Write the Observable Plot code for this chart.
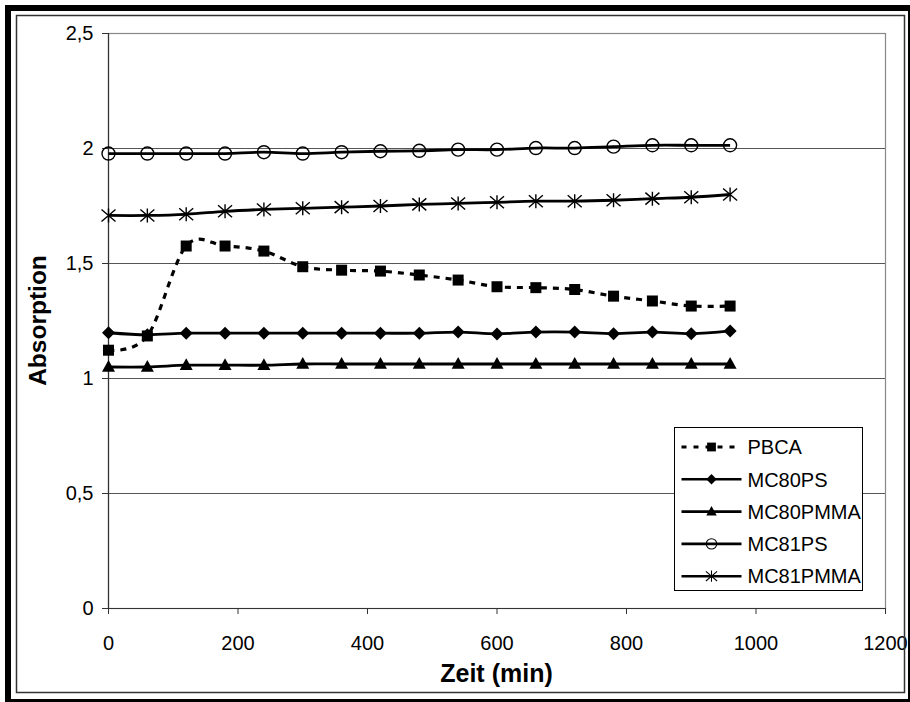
<!DOCTYPE html>
<html><head><meta charset="utf-8">
<script src="https://cdn.jsdelivr.net/npm/d3@7"></script>
<script src="https://cdn.jsdelivr.net/npm/@observablehq/plot@0.6"></script>
<style>body{margin:0;background:#fff}</style>
</head><body><div id="chart"></div>
<script>
const times = [0,60,120,180,240,300,360,420,480,540,600,660,720,780,840,900,960];
const seriesNames = ["PBCA","MC80PS","MC80PMMA","MC81PS","MC81PMMA"];
const pbca     = [1.123,1.185,1.576,1.576,1.554,1.486,1.471,1.467,1.450,1.428,1.399,1.395,1.387,1.358,1.337,1.315,1.315];
const mc80ps   = [1.199,1.190,1.197,1.197,1.197,1.197,1.197,1.197,1.197,1.202,1.194,1.202,1.202,1.195,1.202,1.195,1.207];
const mc80pmma = [1.050,1.050,1.058,1.058,1.058,1.063,1.063,1.063,1.063,1.063,1.063,1.063,1.063,1.063,1.063,1.063,1.063];
const mc81ps   = [1.978,1.978,1.978,1.978,1.984,1.978,1.984,1.988,1.990,1.995,1.995,2.002,2.002,2.008,2.014,2.014,2.014];
const mc81pmma = [1.709,1.709,1.714,1.727,1.735,1.740,1.745,1.750,1.757,1.761,1.766,1.771,1.771,1.775,1.782,1.788,1.800];
const yTicks = [0,0.5,1,1.5,2,2.5];
const yTickLabels = ["0","0,5","1","1,5","2","2,5"];
const xTicks = [0,200,400,600,800,1000,1200];
const xTickLabels = ["0","200","400","600","800","1000","1200"];
const xLabel = "Zeit (min)";
const yLabel = "Absorption";

// marker shapes (Excel-like)
const symSquare = {draw(c){ c.rect(-5.5,-5.5,11,11); }};
const symDiamond = {draw(c){ c.moveTo(0,-6.5); c.lineTo(6.5,0); c.lineTo(0,6.5); c.lineTo(-6.5,0); c.closePath(); }};
const symTriangle = {draw(c){ c.moveTo(0,-7); c.lineTo(6.5,4.8); c.lineTo(-6.5,4.8); c.closePath(); }};
const symCircle = {draw(c){ c.moveTo(6.5,0); c.arc(0,0,6.5,0,2*Math.PI); }};
const symStar = {draw(c){ c.moveTo(-7,-6); c.lineTo(7,6); c.moveTo(-7,6); c.lineTo(7,-6); c.moveTo(0,-7); c.lineTo(0,7); }};

const series = [
  {name: seriesNames[0], values: pbca,     dash: "6,6", sym: symSquare,   filled: true},
  {name: seriesNames[1], values: mc80ps,   dash: null,  sym: symDiamond,  filled: true},
  {name: seriesNames[2], values: mc80pmma, dash: null,  sym: symTriangle, filled: true},
  {name: seriesNames[3], values: mc81ps,   dash: null,  sym: symCircle,   filled: false},
  {name: seriesNames[4], values: mc81pmma, dash: null,  sym: symStar,     filled: false}
];
const rowsOf = s => times.map((t,i) => ({t, v: s.values[i]}));

const lineMarks = series.map(s => Plot.line(rowsOf(s), {
  x: "t", y: "v", curve: "cardinal", stroke: "black",
  strokeWidth: s.dash ? 3.2 : 2.8, strokeDasharray: s.dash || undefined, strokeLinecap: "butt"
}));
const dotMarks = series.map(s => Plot.dot(rowsOf(s), {
  x: "t", y: "v", symbol: s.sym,
  fill: s.filled ? "black" : "none", stroke: s.filled ? "none" : "black",
  strokeWidth: s.filled ? 0 : 1.4
}));

const FONT = "'Liberation Sans', Arial, sans-serif";
const plot = Plot.plot({
  width: 910, height: 702,
  marginLeft: 108, marginRight: 25, marginTop: 33, marginBottom: 94,
  x: {domain: [0, 1200]},
  y: {domain: [0, 2.5]},
  style: {fontFamily: FONT, fontSize: "20px", color: "#000", background: "#fff", overflow: "visible"},
  marks: [
    Plot.ruleY(yTicks.slice(1), {stroke: "#555", strokeWidth: 1}),
    Plot.frame({stroke: "#888", strokeWidth: 1.2}),
    Plot.axisY({ticks: yTicks, tickFormat: d => yTickLabels[yTicks.indexOf(d)], tickSize: 6, tickPadding: 9, label: null, stroke: "#333", fontSize: 20}),
    Plot.axisX({ticks: xTicks, tickFormat: d => xTickLabels[xTicks.indexOf(d)], tickSize: 6, tickPadding: 21, label: null, stroke: "#333", fontSize: 20}),
    Plot.ruleX([0], {stroke: "#333", strokeWidth: 1.2}),
    Plot.ruleY([0], {stroke: "#333", strokeWidth: 1.2}),
    ...lineMarks,
    ...dotMarks
  ]
});
document.getElementById("chart").appendChild(plot);

const svg = d3.select(plot);
const xs = plot.scale("x"), ys = plot.scale("y");
const cx = (xs.apply(0) + xs.apply(1200)) / 2;
const cy = (ys.apply(0) + ys.apply(2.5)) / 2;

// chart frames
svg.append("rect").attr("x", 16.5).attr("y", 15.5).attr("width", 888).attr("height", 677)
  .attr("fill", "none").attr("stroke", "#333").attr("stroke-width", 1.5);
svg.append("rect").attr("x", 8).attr("y", 8).attr("width", 903).attr("height", 694)
  .attr("fill", "none").attr("stroke", "#000").attr("stroke-width", 6);

// axis titles
svg.append("text").attr("x", cx).attr("y", 682).attr("text-anchor", "middle")
  .attr("font-family", FONT).attr("font-weight", "bold").attr("font-size", 25).text(xLabel);
svg.append("text").attr("transform", `translate(46,${cy}) rotate(-90)`).attr("text-anchor", "middle")
  .attr("font-family", FONT).attr("font-weight", "bold").attr("font-size", 24.5).text(yLabel);

// legend
const lg = svg.append("g").attr("transform", "translate(674.5,427.5)");
lg.append("rect").attr("width", 188).attr("height", 163).attr("fill", "#fff").attr("stroke", "#000").attr("stroke-width", 1);
series.forEach((s, i) => {
  const y = 19.5 + i * 32.3;
  lg.append("line").attr("x1", 7).attr("x2", 67).attr("y1", y).attr("y2", y)
    .attr("stroke", "#000").attr("stroke-width", s.dash ? 3 : 2.6)
    .attr("stroke-dasharray", s.dash ? "5,7" : null);
  lg.append("path").attr("transform", `translate(37,${y}) scale(0.8)`)
    .attr("d", d3.symbol(s.sym)())
    .attr("fill", s.filled ? "#000" : "none").attr("stroke", s.filled ? "none" : "#000").attr("stroke-width", 1.3);
  lg.append("text").attr("x", 73).attr("y", y).attr("dy", "0.36em").attr("text-anchor", "start")
    .attr("font-family", FONT).attr("font-size", 20).text(s.name);
});
</script>
</body></html>
